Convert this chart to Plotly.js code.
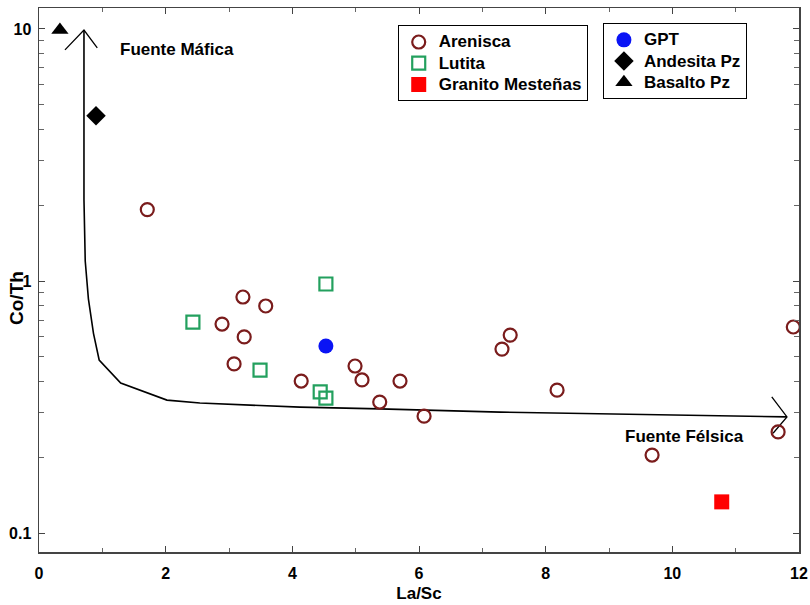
<!DOCTYPE html>
<html>
<head>
<meta charset="utf-8">
<script src="https://cdn.plot.ly/plotly-3.0.1.min.js"></script>
<style>html,body{margin:0;padding:0;background:#fff;}#chart{width:810px;height:605px;}</style>
</head>
<body>
<div id="chart"></div>
<script>
// ---- Data ----
const areniscaX = [1.71, 3.22, 3.58, 2.89, 3.24, 3.08, 4.14, 4.99, 5.10, 5.70, 5.38, 6.08, 7.31, 7.44, 8.18, 9.68, 11.67, 11.91];
const areniscaY = [1.92, 0.864, 0.796, 0.675, 0.600, 0.469, 0.401, 0.460, 0.405, 0.401, 0.331, 0.291, 0.537, 0.610, 0.369, 0.204, 0.252, 0.657];

const lutitaX = [2.43, 4.53, 3.49, 4.44, 4.53];
const lutitaY = [0.687, 0.973, 0.443, 0.363, 0.343];

const granitoX = [10.78];
const granitoY = [0.133];

const gptX = [4.53];
const gptY = [0.552];

const andesitaX = [0.90];
const andesitaY = [4.52];

const basaltoX = [0.33];
const basaltoY = [9.9];

// Source-boundary curve (mafic -> felsic)
const curveX = [0.71, 0.71, 0.73, 0.78, 0.86, 0.95, 1.29, 2.02, 2.54, 4.12, 5.38, 7.28, 11.81];
const curveY = [9.9, 2.10, 1.20, 0.85, 0.62, 0.486, 0.394, 0.337, 0.328, 0.316, 0.311, 0.302, 0.289];
// Open arrowheads
const arrowTopX = [0.41, 0.71, 0.92];
const arrowTopY = [8.26, 9.9, 8.41];
const arrowRightX = [11.57, 11.81, 11.59];
const arrowRightY = [0.347, 0.289, 0.249];

const xTickVals = [0, 2, 4, 6, 8, 10, 12];
const yTickVals = [0.1, 1, 10];
const yTickText = ['0.1', '1', '10'];

const arial = 'Liberation Sans, Arial, sans-serif';
const legendFont = {family: arial, size: 14, color: '#000', weight: 700};
const big = s => '<span style="font-size:17px">' + s + '</span>';

const traces = [
  {x: curveX, y: curveY, mode: 'lines', line: {color: '#000', width: 1.6}, showlegend: false, hoverinfo: 'skip'},
  {x: arrowTopX, y: arrowTopY, mode: 'lines', line: {color: '#000', width: 1.3}, showlegend: false, hoverinfo: 'skip'},
  {x: arrowRightX, y: arrowRightY, mode: 'lines', line: {color: '#000', width: 1.3}, showlegend: false, hoverinfo: 'skip'},
  {x: areniscaX, y: areniscaY, name: big('Arenisca'), mode: 'markers', legend: 'legend',
   marker: {symbol: 'circle-open', size: 13, color: '#7a1c1c', line: {width: 2.2, color: '#7a1c1c'}}},
  {x: lutitaX, y: lutitaY, name: big('Lutita'), mode: 'markers', legend: 'legend',
   marker: {symbol: 'square-open', size: 13, color: '#23a05e', line: {width: 2.2, color: '#23a05e'}}},
  {x: granitoX, y: granitoY, name: big('Granito Mesteñas'), mode: 'markers', legend: 'legend',
   marker: {symbol: 'square', size: 15, color: '#ff0000'}},
  {x: gptX, y: gptY, name: big('GPT'), mode: 'markers', legend: 'legend2',
   marker: {symbol: 'circle', size: 15, color: '#0a14f5'}},
  {x: andesitaX, y: andesitaY, name: big('Andesita Pz'), mode: 'markers', legend: 'legend2',
   marker: {symbol: 'diamond', size: 15, color: '#000'}},
  {x: basaltoX, y: basaltoY, name: big('Basalto Pz'), mode: 'markers', legend: 'legend2',
   marker: {symbol: 'triangle-up', size: 15, color: '#000'}}
];

const legendBase = {
  bgcolor: '#fff', bordercolor: '#000', borderwidth: 1,
  font: legendFont, xanchor: 'left', yanchor: 'top', itemclick: false, tracegroupgap: 0
};

const layout = {
  width: 810, height: 605,
  margin: {l: 39, r: 11, t: 8, b: 53},
  paper_bgcolor: '#fff', plot_bgcolor: '#fff',
  showlegend: true,
  legend: Object.assign({}, legendBase, {x: 0.472, y: 0.968}),
  legend2: Object.assign({}, legendBase, {x: 0.742, y: 0.972}),
  xaxis: {
    range: [0, 12], tickvals: xTickVals, ticktext: xTickVals.map(v => '<b>' + v + '</b>'),
    ticks: 'inside', ticklen: 6, tickcolor: '#444', tickwidth: 1,
    minor: {dtick: 1, ticks: 'inside', ticklen: 4, tickcolor: '#666'},
    showline: true, linecolor: '#444', linewidth: 1.5, mirror: 'ticks',
    showgrid: false, zeroline: false, ticklabelstandoff: 6,
    tickfont: {family: arial, size: 16, color: '#000', weight: 700},
    title: {text: '<b>La/Sc</b>', font: {family: arial, size: 17, color: '#000', weight: 700}, standoff: 6}
  },
  yaxis: {
    type: 'log', range: [-1.075, 1.083],
    tickvals: yTickVals, ticktext: yTickText.map(t => '<b>' + t + '</b>'),
    ticks: 'inside', ticklen: 6, tickcolor: '#444', tickwidth: 1,
    minor: {tickvals: [0.2,0.3,0.4,0.5,0.6,0.7,0.8,0.9,2,3,4,5,6,7,8,9], ticks: 'inside', ticklen: 5, tickcolor: '#666'},
    showline: true, linecolor: '#444', linewidth: 1.5, mirror: 'ticks',
    showgrid: false, zeroline: false, ticklabelstandoff: 3,
    tickfont: {family: arial, size: 16, color: '#000', weight: 700}
  },
  annotations: [
    {text: '<b>Fuente Máfica</b>', x: 177, y: 50, xref: 'paper', yref: 'paper', showarrow: false, font: {family: arial, size: 17, color: '#000'}},
    {text: '<b>Fuente Félsica</b>', x: 684, y: 436, xref: 'paper', yref: 'paper', showarrow: false, font: {family: arial, size: 17, color: '#000'}},
    {text: '<b>Co/Th</b>', x: 16, y: 298, xref: 'paper', yref: 'paper', showarrow: false, textangle: -90,
     font: {family: arial, size: 19, color: '#000'}}
  ]
};
// convert pixel-based annotation positions to paper coords
const plotL = 39, plotW = 760, plotT = 8, plotH = 544;
layout.annotations.forEach(a => {
  a.x = (a.x - plotL) / plotW;
  a.y = 1 - (a.y - plotT) / plotH;
  a.xanchor = 'center'; a.yanchor = 'middle';
});

Plotly.newPlot('chart', traces, layout, {displayModeBar: false, staticPlot: true});
</script>
</body>
</html>
